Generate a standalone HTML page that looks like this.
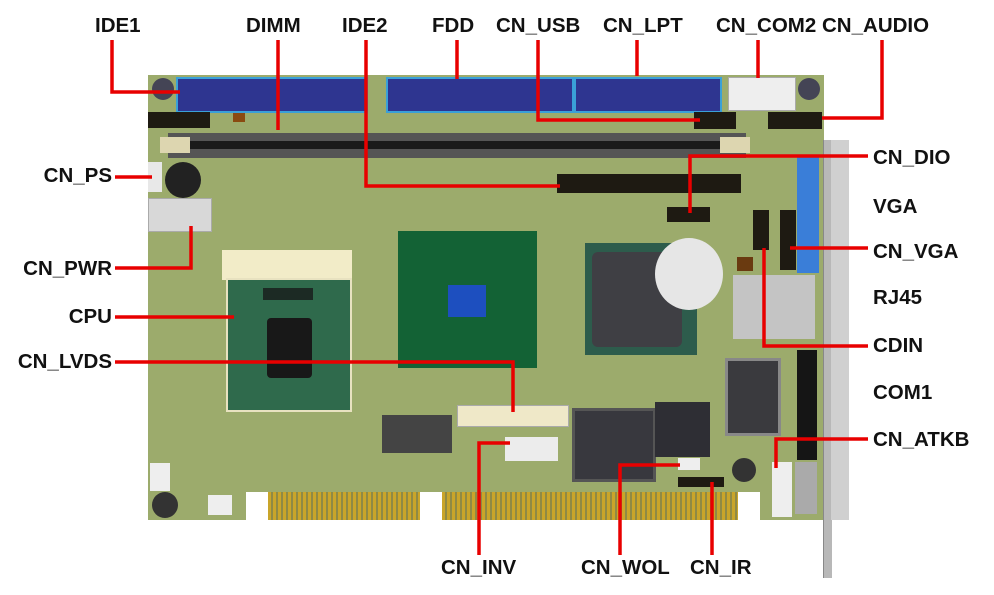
<!DOCTYPE html>
<html><head><meta charset="utf-8"><style>
body{margin:0;width:994px;height:595px;background:#fff;position:relative;overflow:hidden;font-family:"Liberation Sans",sans-serif}
.a{position:absolute}
.t{position:absolute;font-weight:bold;font-size:20.5px;color:#111;white-space:nowrap;line-height:22px}
.r{text-align:right}
</style></head><body>
<div class="a" style="left:148px;top:75px;width:676px;height:445px;background:#9cab6c"></div>
<div class="a" style="left:823px;top:140px;width:8px;height:438px;background:#b8b8b8;border-left:1px solid #888"></div>
<div class="a" style="left:831px;top:140px;width:18px;height:380px;background:#d0d0d0"></div>
<div class="a" style="left:176px;top:77px;width:188px;height:32px;background:#2e3590;border:2px solid #3aa0d8"></div>
<div class="a" style="left:386px;top:77px;width:184px;height:32px;background:#2e3590;border:2px solid #3aa0d8"></div>
<div class="a" style="left:574px;top:77px;width:144px;height:32px;background:#2e3590;border:2px solid #3aa0d8"></div>
<div class="a" style="left:728px;top:77px;width:66px;height:32px;background:#eeeeee;border:1px solid #aaa"></div>
<div class="a" style="left:152px;top:78px;width:22px;height:22px;border-radius:50%;background:#445"></div>
<div class="a" style="left:798px;top:78px;width:22px;height:22px;border-radius:50%;background:#445"></div>
<div class="a" style="left:148px;top:112px;width:62px;height:16px;background:#1e1a12"></div>
<div class="a" style="left:694px;top:112px;width:42px;height:17px;background:#1e1a12"></div>
<div class="a" style="left:768px;top:112px;width:54px;height:17px;background:#1e1a12"></div>
<div class="a" style="left:233px;top:113px;width:12px;height:9px;background:#8a4a10"></div>
<div class="a" style="left:168px;top:133px;width:578px;height:25px;background:#555"></div>
<div class="a" style="left:175px;top:141px;width:564px;height:8px;background:#1a1a1a"></div>
<div class="a" style="left:160px;top:137px;width:30px;height:16px;background:#ddd6b0"></div>
<div class="a" style="left:720px;top:137px;width:30px;height:16px;background:#ddd6b0"></div>
<div class="a" style="left:557px;top:174px;width:184px;height:19px;background:#1e1a12"></div>
<div class="a" style="left:667px;top:207px;width:43px;height:15px;background:#1e1a12"></div>
<div class="a" style="left:148px;top:162px;width:14px;height:30px;background:#e8e8e8"></div>
<div class="a" style="left:165px;top:162px;width:36px;height:36px;border-radius:50%;background:#222"></div>
<div class="a" style="left:148px;top:198px;width:62px;height:32px;background:#d8d8d8;border:1px solid #aaa"></div>
<div class="a" style="left:222px;top:250px;width:130px;height:30px;background:#f2ecc8"></div>
<div class="a" style="left:226px;top:278px;width:122px;height:130px;background:#2f6a4c;border:2px solid #e8e2c0"></div>
<div class="a" style="left:267px;top:318px;width:45px;height:60px;background:#181818;border-radius:4px"></div>
<div class="a" style="left:263px;top:288px;width:50px;height:12px;background:#1c2a24"></div>
<div class="a" style="left:398px;top:231px;width:139px;height:137px;background:#136235"></div>
<div class="a" style="left:448px;top:285px;width:38px;height:32px;background:#1d4fbf"></div>
<div class="a" style="left:585px;top:243px;width:112px;height:112px;background:#2d5c4c"></div>
<div class="a" style="left:592px;top:252px;width:90px;height:95px;background:#3f3f44;border-radius:6px"></div>
<div class="a" style="left:655px;top:238px;width:68px;height:72px;border-radius:50%;background:#e6e6e6"></div>
<div class="a" style="left:753px;top:210px;width:16px;height:40px;background:#1e1a12"></div>
<div class="a" style="left:780px;top:210px;width:16px;height:60px;background:#1e1a12"></div>
<div class="a" style="left:797px;top:155px;width:22px;height:118px;background:#3a7ed8"></div>
<div class="a" style="left:737px;top:257px;width:16px;height:14px;background:#6a3a10"></div>
<div class="a" style="left:733px;top:275px;width:82px;height:64px;background:#c4c4c4"></div>
<div class="a" style="left:725px;top:358px;width:50px;height:72px;background:#3a3a3e;border:3px solid #888"></div>
<div class="a" style="left:797px;top:350px;width:20px;height:110px;background:#151515"></div>
<div class="a" style="left:772px;top:462px;width:20px;height:55px;background:#eee"></div>
<div class="a" style="left:795px;top:462px;width:22px;height:52px;background:#aaa"></div>
<div class="a" style="left:457px;top:405px;width:110px;height:20px;background:#efe8c8;border:1px solid #aaa"></div>
<div class="a" style="left:382px;top:415px;width:70px;height:38px;background:#444"></div>
<div class="a" style="left:505px;top:437px;width:53px;height:24px;background:#ececec"></div>
<div class="a" style="left:572px;top:408px;width:78px;height:68px;background:#38383e;border:3px solid #555"></div>
<div class="a" style="left:655px;top:402px;width:55px;height:55px;background:#2e2e34"></div>
<div class="a" style="left:678px;top:458px;width:22px;height:12px;background:#eee"></div>
<div class="a" style="left:678px;top:477px;width:46px;height:10px;background:#1e1a12"></div>
<div class="a" style="left:732px;top:458px;width:24px;height:24px;border-radius:50%;background:#333"></div>
<div class="a" style="left:152px;top:492px;width:26px;height:26px;border-radius:50%;background:#333"></div>
<div class="a" style="left:208px;top:495px;width:24px;height:20px;background:#eee"></div>
<div class="a" style="left:150px;top:463px;width:20px;height:28px;background:#eee"></div>
<div class="a" style="left:246px;top:492px;width:22px;height:28px;background:#fff"></div>
<div class="a" style="left:268px;top:492px;width:152px;height:28px;background:repeating-linear-gradient(90deg,#c9a52a 0 3px,#8f8a45 3px 5px)"></div>
<div class="a" style="left:420px;top:492px;width:22px;height:28px;background:#fff"></div>
<div class="a" style="left:442px;top:492px;width:296px;height:28px;background:repeating-linear-gradient(90deg,#c9a52a 0 3px,#8f8a45 3px 5px)"></div>
<div class="a" style="left:738px;top:492px;width:22px;height:28px;background:#fff"></div>

<svg class="a" style="left:0;top:0" width="994" height="595">
<g stroke="#e80000" stroke-width="3.5" fill="none">
<polyline points="112,40 112,92 180,92"/>
<polyline points="278,40 278,130"/>
<polyline points="366,40 366,186 560,186"/>
<polyline points="457,40 457,79"/>
<polyline points="538,40 538,120 700,120"/>
<polyline points="637,40 637,76"/>
<polyline points="758,40 758,78"/>
<polyline points="882,40 882,118 822,118"/>
<polyline points="868,156 690,156 690,213"/>
<polyline points="868,248 790,248"/>
<polyline points="868,346 764,346 764,248"/>
<polyline points="868,439 776,439 776,468"/>
<polyline points="115,177 152,177"/>
<polyline points="115,268 191,268 191,226"/>
<polyline points="115,317 234,317"/>
<polyline points="115,362 513,362 513,412"/>
<polyline points="479,555 479,443 510,443"/>
<polyline points="620,555 620,465 680,465"/>
<polyline points="712,555 712,482"/>
</g></svg>

<div class="t" style="left:95px;top:15px">IDE1</div>
<div class="t" style="left:246px;top:15px">DIMM</div>
<div class="t" style="left:342px;top:15px">IDE2</div>
<div class="t" style="left:432px;top:15px">FDD</div>
<div class="t" style="left:496px;top:15px">CN_USB</div>
<div class="t" style="left:603px;top:15px">CN_LPT</div>
<div class="t" style="left:716px;top:15px">CN_COM2</div>
<div class="t" style="left:822px;top:15px">CN_AUDIO</div>
<div class="t" style="left:873px;top:147px">CN_DIO</div>
<div class="t" style="left:873px;top:196px">VGA</div>
<div class="t" style="left:873px;top:241px">CN_VGA</div>
<div class="t" style="left:873px;top:287px">RJ45</div>
<div class="t" style="left:873px;top:335px">CDIN</div>
<div class="t" style="left:873px;top:382px">COM1</div>
<div class="t" style="left:873px;top:429px">CN_ATKB</div>
<div class="t r" style="left:0;width:112px;top:165px">CN_PS</div>
<div class="t r" style="left:0;width:112px;top:258px">CN_PWR</div>
<div class="t r" style="left:0;width:112px;top:306px">CPU</div>
<div class="t r" style="left:0;width:112px;top:351px">CN_LVDS</div>
<div class="t" style="left:441px;top:557px">CN_INV</div>
<div class="t" style="left:581px;top:557px">CN_WOL</div>
<div class="t" style="left:690px;top:557px">CN_IR</div>
</body></html>
